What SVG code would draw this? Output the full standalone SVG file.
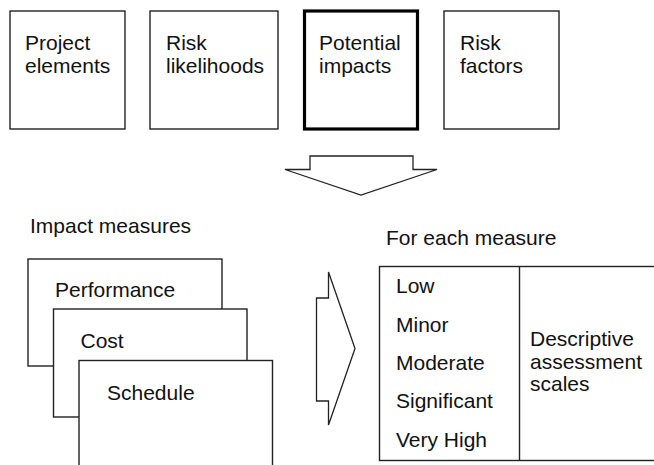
<svg xmlns="http://www.w3.org/2000/svg" width="654" height="465" viewBox="0 0 654 465">
<style>
.b{fill:#fff;stroke:#222;stroke-width:1.4}
.thick{fill:#fff;stroke:#000;stroke-width:3.2}
.t{font-family:"Liberation Sans",Arial,Helvetica,sans-serif;font-size:21px;fill:#111}
.ar{fill:#fff;stroke:#222;stroke-width:1.3;stroke-linejoin:miter}
</style>
<rect width="654" height="465" fill="#fff"/>
<g id="project-elements">
<rect class="b" x="10" y="11" width="115" height="118"/>
<text class="t" x="25" y="50">Project</text>
<text class="t" x="25" y="73">elements</text>
</g>
<g id="risk-likelihoods">
<rect class="b" x="150" y="11" width="128" height="118"/>
<text class="t" x="166" y="50">Risk</text>
<text class="t" x="166" y="73">likelihoods</text>
</g>
<g id="potential-impacts">
<rect class="thick" x="304.5" y="11" width="113" height="118"/>
<text class="t" x="319" y="50">Potential</text>
<text class="t" x="319" y="73">impacts</text>
</g>
<g id="risk-factors">
<rect class="b" x="444" y="11" width="115" height="118"/>
<text class="t" x="460" y="50">Risk</text>
<text class="t" x="460" y="73">factors</text>
</g>
<g id="connectors">
<polygon class="ar" points="310,156 413,156 413,169.5 437,169.5 361,195 285,169.5 310,169.5"/>
<polygon class="ar" points="316.5,298 328.5,298 328.5,272 355,348.5 328.5,425 328.5,401 316.5,401"/>
</g>
<g id="impact-measures">
<text class="t" x="30" y="233">Impact measures</text>
<g id="performance">
<rect class="b" x="28" y="259" width="194" height="107"/>
<text class="t" x="55" y="297">Performance</text>
</g>
<g id="cost">
<rect class="b" x="53.5" y="309" width="193.5" height="108"/>
<text class="t" x="80.5" y="347.5">Cost</text>
</g>
<g id="schedule">
<rect class="b" x="79" y="360.5" width="193.5" height="110"/>
<text class="t" x="107" y="400">Schedule</text>
</g>
</g>
<g id="scales">
<text class="t" x="386" y="245">For each measure</text>
<rect class="b" x="379.5" y="266.5" width="280" height="194"/>
<line class="b" x1="519.5" y1="266.5" x2="519.5" y2="460.5"/>
<text class="t" x="396" y="293">Low</text>
<text class="t" x="396" y="331.5">Minor</text>
<text class="t" x="396" y="370">Moderate</text>
<text class="t" x="396" y="408">Significant</text>
<text class="t" x="396" y="446.5">Very High</text>
<text class="t" x="530" y="346">Descriptive</text>
<text class="t" x="530" y="368.5">assessment</text>
<text class="t" x="530" y="391">scales</text>
</g>
</svg>
